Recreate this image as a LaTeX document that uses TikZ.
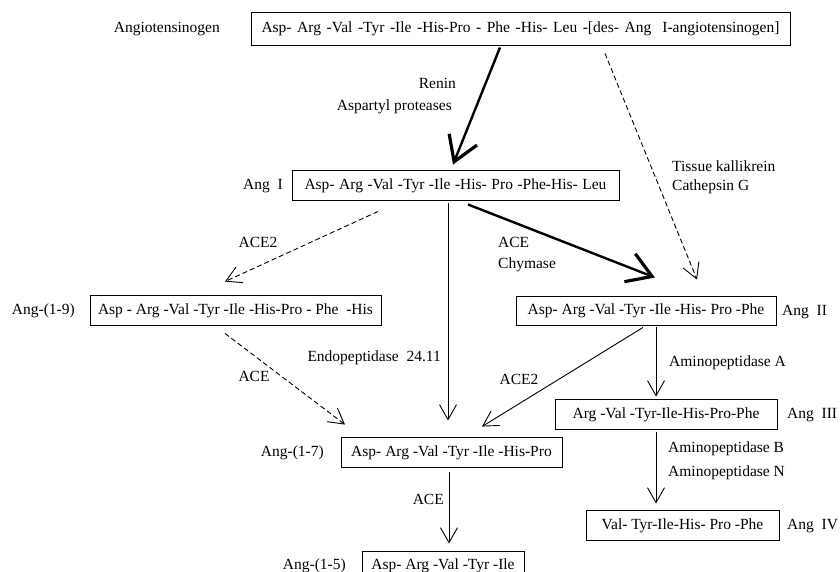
\documentclass[tikz,border=0pt]{standalone}
\usepackage{fontspec}
\setmainfont{Liberation Serif}
\usetikzlibrary{arrows.meta}
\tikzset{
  box/.style={draw, line width=0.9pt, inner sep=0pt, text height=11pt, text depth=2.5pt},
  lbl/.style={inner sep=0pt, text height=11pt, text depth=2.5pt},
  arr/.style={line width=0.9pt, -{Straight Barb[length=15pt,width=17pt,line width=0.9pt]}},
  darr/.style={arr, dash pattern=on 5pt off 3pt},
  tarr/.style={line width=2.4pt, -{Straight Barb[length=24pt,width=30pt,line width=3.2pt]}}
}
\begin{document}
\begin{tikzpicture}[x=1pt,y=-1pt,font=\fontsize{15.5}{18}\selectfont]
\useasboundingbox (0,0) rectangle (840,571);
\clip (0,0) rectangle (840,571);
% boxes
\node[box, minimum width=539pt, minimum height=33pt] (agen) at (520.5,28.5) {\makebox[518pt][s]{Asp- Arg -Val -Tyr -Ile -His-Pro - Phe -His- Leu -[des- Ang~ I-angiotensinogen]}\hspace{9pt}};
\node[box, minimum width=327pt, minimum height=30pt] (angI) at (455.5,185) {\makebox[302pt][s]{Asp- Arg -Val -Tyr -Ile -His- Pro -Phe-His- Leu}\hspace{4pt}};
\node[box, minimum width=291pt, minimum height=30pt] (a19) at (235.5,310) {Asp - Arg -Val -Tyr -Ile -His-Pro - Phe~ -His};
\node[box, minimum width=260pt, minimum height=29pt] (angII) at (646,310.5) {Asp- Arg -Val -Tyr -Ile -His- Pro -Phe};
\node[box, minimum width=222pt, minimum height=30pt] (angIII) at (666,414) {Arg -Val -Tyr-Ile-His-Pro-Phe};
\node[box, minimum width=221pt, minimum height=30pt] (a17) at (451.5,452) {Asp- Arg -Val -Tyr -Ile -His-Pro};
\node[box, minimum width=193pt, minimum height=30pt] (angIV) at (682.5,525) {Val- Tyr-Ile-His- Pro -Phe};
\node[box, minimum width=162pt, minimum height=28pt] (a15) at (443,565) {Asp- Arg -Val -Tyr -Ile};
% side labels
\node[lbl, anchor=east] (lagen) at (220,28) {Angiotensinogen};
\node[lbl, anchor=east] (lI) at (283,185) {Ang~ I};
\node[lbl, anchor=east] (l19) at (75,310) {Ang-(1-9)};
\node[lbl, anchor=west] (lII) at (782,311) {Ang~ II};
\node[lbl, anchor=west] (lIII) at (787,414) {Ang~ III};
\node[lbl, anchor=east] (l17) at (324,452) {Ang-(1-7)};
\node[lbl, anchor=west] (lIV) at (787,525) {Ang~ IV};
\node[lbl, anchor=east] (l15) at (346,565) {Ang-(1-5)};
% enzyme labels
\node[lbl, anchor=east] (eren) at (456,84) {Renin};
\node[lbl, anchor=east] (easp) at (452,106) {Aspartyl proteases};
\node[lbl, anchor=west] (etis) at (672,167) {Tissue kallikrein};
\node[lbl, anchor=west] (ecat) at (672,186) {Cathepsin G};
\node[lbl] (eace2a) at (258,243) {ACE2};
\node[lbl, anchor=west] (eace) at (498,243) {ACE};
\node[lbl, anchor=west] (echy) at (498,264) {Chymase};
\node[lbl, anchor=east] (eendo) at (441,357) {Endopeptidase~ 24.11};
\node[lbl] (eaceb) at (254,377) {ACE};
\node[lbl] (eace2b) at (519,380) {ACE2};
\node[lbl, anchor=west] (eama) at (669,362) {Aminopeptidase A};
\node[lbl, anchor=west] (eamb) at (668,448) {Aminopeptidase B};
\node[lbl, anchor=west] (eamn) at (668,472) {Aminopeptidase N};
\node[lbl, anchor=east] (eacec) at (444,500) {ACE};
% connectors
\draw[tarr] ([xshift=-20.5pt,yshift=-2pt]agen.south) -- ([xshift=-2.5pt,yshift=5pt]angI.north);
\draw[darr] ([xshift=84.5pt,yshift=-8pt]agen.south) -- ([xshift=51pt,yshift=16pt]angII.north);
\draw[tarr] ([xshift=12.5pt,yshift=-4pt]angI.south) -- ([xshift=9pt,yshift=18pt]angII.north);
\draw[darr] ([xshift=-77.5pt,yshift=-11pt]angI.south) -- ([xshift=-10.5pt,yshift=13pt]a19.north);
\draw[arr] ([xshift=-7.5pt,yshift=-3pt]angI.south) -- ([xshift=-3.5pt,yshift=16pt]a17.north);
\draw[darr] ([xshift=-10.5pt,yshift=-8pt]a19.south) -- ([xshift=-106.5pt,yshift=12pt]a17.north);
\draw[arr] ([xshift=-3pt,yshift=-2pt]angII.south) -- ([xshift=30.5pt,yshift=10pt]a17.north);
\draw[arr] ([xshift=10pt,yshift=-2pt]angII.south) -- ([xshift=-10pt,yshift=2pt]angIII.north);
\draw[arr] ([xshift=-10pt,yshift=-3pt]angIII.south) -- ([xshift=-26.5pt,yshift=6pt]angIV.north);
\draw[arr] ([xshift=-2.5pt,yshift=-5pt]a17.south) -- ([xshift=6pt,yshift=7pt]a15.north);
\end{tikzpicture}
\end{document}
